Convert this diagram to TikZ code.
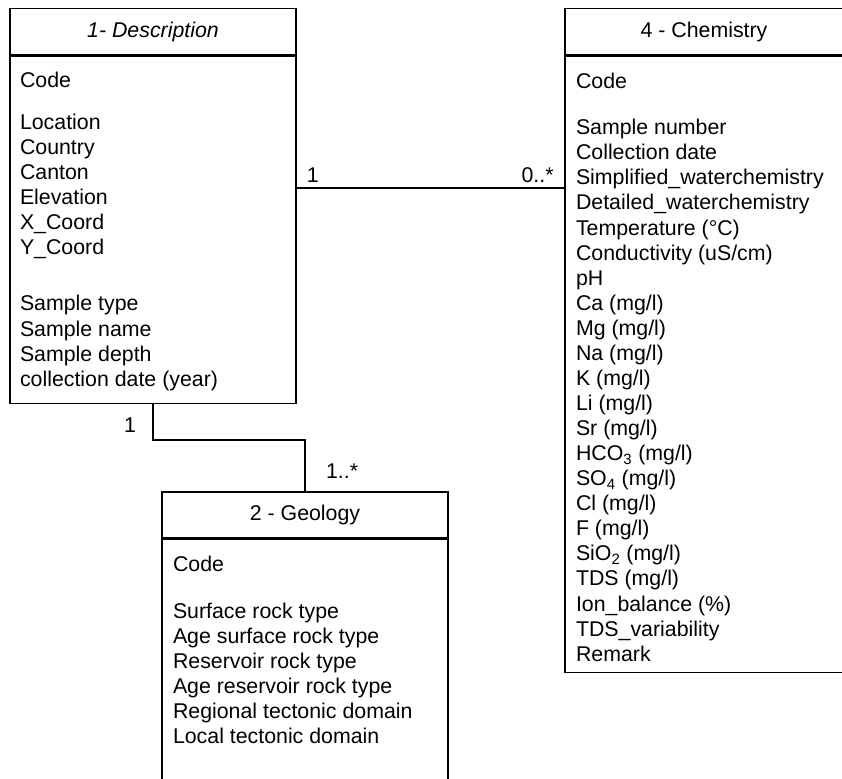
\documentclass[tikz,border=0pt]{standalone}
\usepackage{fontspec}
\setmainfont{Liberation Sans}
\usetikzlibrary{positioning}
\tikzset{
    classhead/.style={
        draw,
        rectangle,
        inner sep=0pt,
        minimum height=34.5pt,
        font=\fontsize{16}{18.8}\selectfont
    },
    classbody/.style={
        draw,
        rectangle,
        inner sep=0pt
    },
    attrs/.style={
        anchor=base west,
        align=left,
        inner sep=0pt,
        font=\fontsize{16}{18.8}\selectfont
    },
    mult/.style={font=\fontsize{16}{18.8}\selectfont}
}

\begin{document}
\begin{tikzpicture}[x=0.75pt, y=-0.75pt, line width=1pt]
  \useasboundingbox (0,0) rectangle (842,778);
  \clip (0,0) rectangle (842,778);

  % Class boxes
  \node[classhead, minimum width=214.5pt] (deschead) at (153,31.5) {\itshape 1- Description};
  \node[classbody, minimum width=214.5pt, minimum height=260.6pt, below=0pt of deschead] (descbody) {};

  \node[classhead, minimum width=208.5pt] (chemhead) at (704,31.5) {4 - Chemistry};
  \node[classbody, minimum width=208.5pt, minimum height=462.4pt, below=0pt of chemhead] (chembody) {};

  \node[classhead, minimum width=214.5pt] (geohead) at (305,515) {2 - Geology};
  \node[classbody, minimum width=214.5pt, minimum height=196.5pt, below=0pt of geohead] (geobody) {};

  % Attributes (placed by the baseline of the last line)
  \node[attrs] (descattr) at ([shift={(10,331)}]descbody.north west) {Code\\[12.7pt]
    Location\\Country\\Canton\\Elevation\\X\_Coord\\Y\_Coord\\[23.2pt]
    Sample type\\Sample name\\Sample depth\\collection date (year)};

  \node[attrs] (chemattr) at ([shift={(11,606)}]chembody.north west) {Code\\[15.7pt]
    Sample number\\Collection date\\Simplified\_waterchemistry\\Detailed\_waterchemistry\\
    Temperature (°C)\\Conductivity (uS/cm)\\pH\\Ca (mg/l)\\Mg (mg/l)\\Na (mg/l)\\
    K (mg/l)\\Li (mg/l)\\Sr (mg/l)\\HCO\textsubscript{3} (mg/l)\\SO\textsubscript{4} (mg/l)\\
    Cl (mg/l)\\F (mg/l)\\SiO\textsubscript{2} (mg/l)\\TDS (mg/l)\\Ion\_balance (\%)\\
    TDS\_variability\\Remark};

  \node[attrs] (geoattr) at ([shift={(11,205)}]geobody.north west) {Code\\[16.5pt]
    Surface rock type\\Age surface rock type\\Reservoir rock type\\Age reservoir rock type\\
    Regional tectonic domain\\Local tectonic domain};

  % Associations
  \coordinate (link) at (430,188);
  \draw (descbody.east |- link) -- node[mult, above, pos=0.06] {1}
    node[mult, above, pos=0.9] {0..*} (chembody.west |- link);
  \draw (descbody.south) -- node[mult, left=9pt, pos=0.58] {1} ++(0,36)
    -| node[mult, right=12pt, pos=0.8] {1..*} (geohead.north);
\end{tikzpicture}
\end{document}
